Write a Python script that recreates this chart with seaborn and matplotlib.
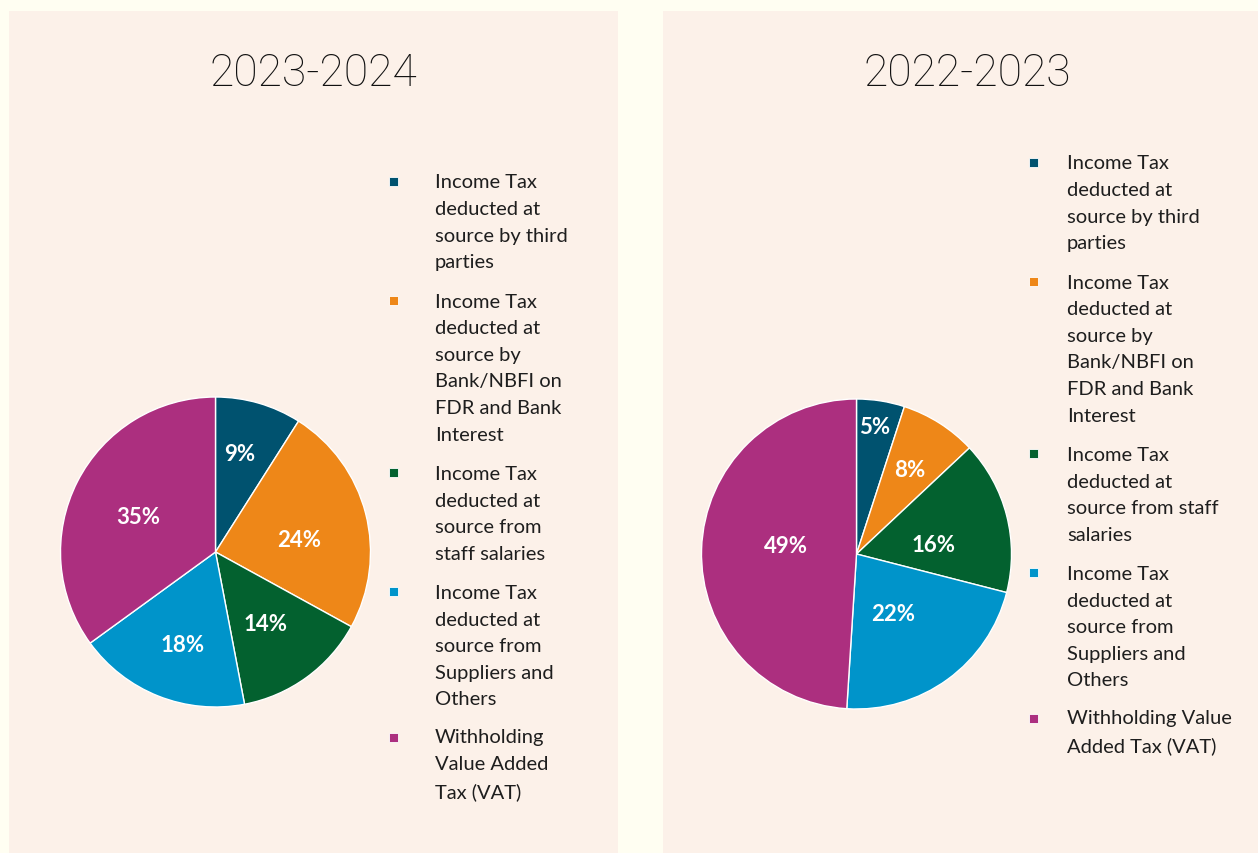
import matplotlib
matplotlib.use("Agg")
import matplotlib.pyplot as plt
from matplotlib.patches import Rectangle
import numpy as np
import seaborn as sns

# Tax categories and their shares (%) for each fiscal year
categories = [
    "Income Tax deducted at source by third parties",
    "Income Tax deducted at source by Bank/NBFI on FDR and Bank Interest",
    "Income Tax deducted at source from staff salaries",
    "Income Tax deducted at source from Suppliers and Others",
    "Withholding Value Added Tax (VAT)",
]
years = ["2023-2024", "2022-2023"]
share_2023_24 = [9, 24, 14, 18, 35]
share_2022_23 = [5, 8, 16, 22, 49]

# Wrapped legend labels for each panel
legend_2023_24 = [
    "Income Tax\ndeducted at\nsource by third\nparties",
    "Income Tax\ndeducted at\nsource by\nBank/NBFI on\nFDR and Bank\nInterest",
    "Income Tax\ndeducted at\nsource from\nstaff salaries",
    "Income Tax\ndeducted at\nsource from\nSuppliers and\nOthers",
    "Withholding\nValue Added\nTax (VAT)",
]
legend_2022_23 = [
    "Income Tax\ndeducted at\nsource by third\nparties",
    "Income Tax\ndeducted at\nsource by\nBank/NBFI on\nFDR and Bank\nInterest",
    "Income Tax\ndeducted at\nsource from staff\nsalaries",
    "Income Tax\ndeducted at\nsource from\nSuppliers and\nOthers",
    "Withholding Value\nAdded Tax (VAT)",
]

slice_colors = sns.color_palette(["#00526F", "#EE8718", "#03612F", "#0094CA", "#AC2F7F"])

W, H = 1258, 854
OUTER_BG = "#FFFEF2"
PANEL_BG = "#FCF1E9"

sns.set_theme(style="white")
plt.rcParams["font.family"] = ["Lato", "DejaVu Sans"]

fig = plt.figure(figsize=(W / 100, H / 100), dpi=100, facecolor=OUTER_BG)


def fx(px):
    return px / W


def fy(py):
    return 1 - py / H


def draw_panel(x0, width, title, values, labels, pie_center, radius,
               label_pos, legend_x, text_dx, legend_top):
    # Panel background
    fig.patches.append(Rectangle((fx(x0), 0), width / W, fy(12),
                                 transform=fig.transFigure, facecolor=PANEL_BG,
                                 edgecolor="none", zorder=-5))
    # Title
    fig.text(fx(x0 + width / 2), fy(74), title, ha="center", va="center",
             fontsize=32, fontfamily=["Roboto", "Lato", "DejaVu Sans"],
             fontweight="light", color="#111111")

    # Pie
    cx, cy = pie_center
    ax = fig.add_axes([fx(cx - radius), fy(cy + radius), 2 * radius / W, 2 * radius / H])
    ax.set_zorder(2)
    ax.set_facecolor("none")
    wedges, _ = ax.pie(values, colors=slice_colors, startangle=90, counterclock=False,
                       radius=1, wedgeprops=dict(edgecolor="white", linewidth=1))
    # percentage labels: (radius, angular shift from the wedge middle in degrees)
    for w, v, (rd, shift) in zip(wedges, values, label_pos):
        theta = np.deg2rad((w.theta1 + w.theta2) / 2 + shift)
        ax.text(rd * np.cos(theta), rd * np.sin(theta), f"{v}%", ha="center",
                va="center", color="white", fontsize=16, fontweight="bold")
    ax.set_xlim(-1, 1)
    ax.set_ylim(-1, 1)
    ax.set_aspect("equal")
    ax.axis("off")

    # Legend
    line_h = 26.7
    gap = 39
    y = legend_top
    for lbl, col in zip(labels, slice_colors):
        sq = 9
        n = lbl.count("\n") + 1
        fig.patches.append(Rectangle((fx(legend_x - sq / 2), fy(y + 1 + sq / 2)), sq / W, sq / H,
                                     transform=fig.transFigure, facecolor=col,
                                     edgecolor="white", linewidth=0.6, zorder=3))
        # baseline alignment refers to the last line of a multi-line text
        fig.text(fx(legend_x + text_dx), fy(y + 7 + (n - 1) * line_h), lbl, ha="left",
                 va="baseline", fontsize=14.5, color="#1E1E1E", linespacing=1.685)
        y += (n - 1) * line_h + gap


draw_panel(9, 609, years[0], share_2023_24, legend_2023_24, (215.5, 553), 155,
           [(0.652, 2.2), (0.544, -6.2), (0.567, -1), (0.63, 2.1), (0.549, 2.7)],
           393, 42, 181)
draw_panel(663, 609, years[1], share_2022_23, legend_2022_23, (856.5, 555), 155,
           [(0.834, 0.8), (0.643, 0), (0.498, -7), (0.448, -4.3), (0.458, -4.7)],
           1033, 34, 162)

fig.savefig("out.png", dpi=100, facecolor=OUTER_BG)
